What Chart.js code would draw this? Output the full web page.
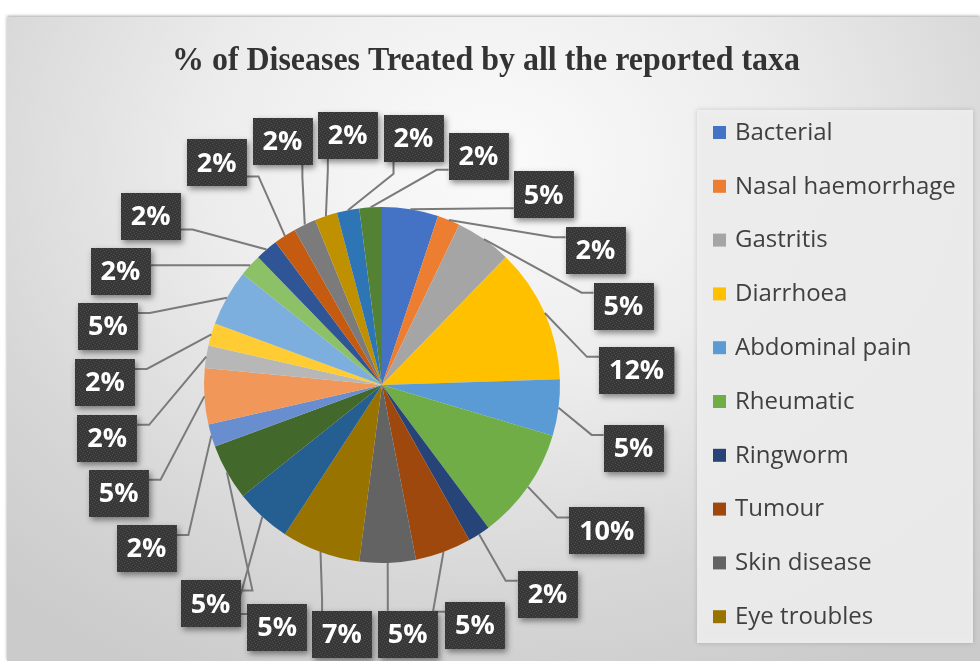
<!DOCTYPE html>
<html>
<head>
<meta charset="utf-8">
<title>% of Diseases Treated by all the reported taxa</title>
<script src="https://cdn.jsdelivr.net/npm/chart.js@4.4.1/dist/chart.umd.min.js"></script>
<style>
  html, body { margin: 0; padding: 0; background: #fff; }
  body { width: 980px; height: 661px; position: relative; overflow: hidden; }
  .frame {
    position: absolute; left: 7px; top: 17px; width: 973px; height: 644px;
    background: radial-gradient(ellipse 75% 90% at 50% 22%, #fbfbfb 0%, #ececec 40%, #d6d6d6 75%, #cbcbcb 100%);
    box-shadow: 0 -1px 3px rgba(0, 0, 0, 0.35);
  }
  canvas { position: absolute; left: 0; top: 0; }
</style>
</head>
<body>
<div class="frame"></div>
<canvas id="diseaseChart" width="980" height="661"></canvas>
<script>
// Diseases and their share (%) among the reported taxa
const diseases = [
  "Bacterial", "Nasal haemorrhage", "Gastritis", "Diarrhoea", "Abdominal pain",
  "Rheumatic", "Ringworm", "Tumour", "Skin disease", "Eye troubles",
  "Other 11", "Other 12", "Other 13", "Other 14", "Other 15", "Other 16",
  "Other 17", "Other 18", "Other 19", "Other 20", "Other 21", "Other 22",
  "Other 23", "Other 24"
]
const shares = [5, 2, 5, 12, 5, 10, 2, 5, 5, 7, 5, 5, 2, 5, 2, 2, 5, 2, 2, 2, 2, 2, 2, 2]

// Office palette: base accents, darker, lighter, then darker again
const sliceColors = [
  "#4472C4", "#ED7D31", "#A5A5A5", "#FFC000", "#5B9BD5", "#70AD47",
  "#264478", "#9E480E", "#636363", "#997300", "#255E91", "#43682B",
  "#698ED0", "#F1975A", "#B7B7B7", "#FFCD33", "#7CAFDD", "#8CC168",
  "#2F5597", "#C55A11", "#7B7B7B", "#BF9000", "#2E75B6", "#548235"
]

const chartTitle = "% of Diseases Treated by all the reported taxa"

// pie placement
const pie = { cx: 382, cy: 385, r: 178 }
// ring on which the value boxes sit: elliptic towards the legend (top right),
// squarer elsewhere so crowded boxes fit into the corners
const ring = { shift: -11, rx: 266, ry: 250, pRound: 2, pSquare: 2.5 }

// small dotted texture for the value boxes
function makeSpeckle(ctx) {
  const c = document.createElement("canvas")
  c.width = 6
  c.height = 6
  const g = c.getContext("2d")
  g.fillStyle = "#373737"
  g.fillRect(0, 0, 6, 6)
  g.fillStyle = "#4e4e4e"
  const dots = [[0, 0], [3, 1], [1, 3], [4, 4], [5, 2], [2, 5]]
  dots.forEach(([x, y]) => g.fillRect(x, y, 1, 1))
  return ctx.createPattern(c, "repeat")
}

// Title drawn in a narrow bold serif
const titlePlugin = {
  id: "titlePlugin",
  afterDraw(chart) {
    const ctx = chart.ctx
    ctx.save()
    ctx.font = "bold 34px 'Liberation Serif'"
    const w = ctx.measureText(chartTitle).width
    const sx = 628 / w
    ctx.translate(486, 61)
    ctx.scale(sx, 1)
    ctx.fillStyle = "#333333"
    ctx.textAlign = "center"
    ctx.textBaseline = "middle"
    ctx.fillText(chartTitle, 0, 0)
    ctx.restore()
  }
}

// Percentage boxes with leader lines; boxes start at their slice's angle
// on the ring, get pushed apart until none overlap, then the gaps are
// evened out a little
const valueLabels = {
  id: "valueLabels",
  afterDatasetsDraw(chart) {
    const ctx = chart.ctx
    const arcs = chart.getDatasetMeta(0).data
    const values = chart.data.datasets[0].data
    const n = arcs.length
    const cx = arcs[0].x
    const cy = arcs[0].y
    const r = arcs[0].outerRadius
    const TAU = Math.PI * 2

    ctx.save()
    ctx.font = "bold 27px 'Open Sans'"
    const boxes = arcs.map((arc, i) => {
      const a = (arc.startAngle + arc.endAngle) / 2 + Math.PI / 2
      const text = values[i] + "%"
      return {
        text, a, t: a,
        w: ctx.measureText(text).width + 20,
        h: 47,
        px: cx + r * Math.sin(a),
        py: cy - r * Math.cos(a)
      }
    })

    const place = (b) => {
      const s = Math.sin(b.t)
      const c = Math.cos(b.t)
      const p = s > 0 && c > 0 ? ring.pRound : ring.pSquare
      const k = Math.pow(Math.pow(Math.abs(s) / ring.rx, p) + Math.pow(Math.abs(c) / ring.ry, p), -1 / p)
      b.lx = cx + ring.shift + k * s
      b.ly = cy - k * c
    }
    const overlaps = (p, q) =>
      Math.abs(p.lx - q.lx) < (p.w + q.w) / 2 + 5 &&
      Math.abs(p.ly - q.ly) < (p.h + q.h) / 2 + 8

    const separate = () => {
      const step = Math.PI / 720
      for (let iter = 0; iter < 4000; iter++) {
        let moved = false
        for (let i = 0; i < n; i++) {
          const p = boxes[i]
          const q = boxes[(i + 1) % n]
          if (overlaps(p, q)) {
            p.t -= step
            q.t += step
            place(p)
            place(q)
            moved = true
          }
        }
        if (!moved) break
      }
    }

    boxes.forEach(place)
    separate()
    for (let pass = 0; pass < 4; pass++) {
      const ts = boxes.map((b) => b.t)
      boxes.forEach((b, i) => {
        const prev = i === 0 ? ts[n - 1] - TAU : ts[i - 1]
        const next = i === n - 1 ? ts[0] + TAU : ts[i + 1]
        b.t += 0.5 * ((prev + next) / 2 - b.t)
        place(b)
      })
    }
    separate()

    // leader lines
    ctx.strokeStyle = "#7a7a7a"
    ctx.lineWidth = 2
    boxes.forEach((b) => {
      const left = b.lx - b.w / 2
      const right = b.lx + b.w / 2
      const top = b.ly - b.h / 2
      const bottom = b.ly + b.h / 2
      let ax, ay, ex, ey
      if (Math.abs(Math.sin(b.t)) > 0.35) {
        ay = Math.min(Math.max(b.py, top + 10), bottom - 10)
        ax = b.px < b.lx ? left : right
        ex = b.px < b.lx ? ax - 12 : ax + 12
        ey = ay
      } else {
        ax = Math.min(Math.max(b.px, left + 10), right - 10)
        ay = b.py < b.ly ? top : bottom
        ex = ax
        ey = b.py < b.ly ? ay - 12 : ay + 12
      }
      ctx.beginPath()
      ctx.moveTo(b.px, b.py)
      ctx.lineTo(ex, ey)
      ctx.lineTo(ax, ay)
      ctx.stroke()
    })

    // boxes
    const speckle = makeSpeckle(ctx)
    boxes.forEach((b) => {
      const x = Math.round(b.lx - b.w / 2)
      const y = Math.round(b.ly - b.h / 2)
      ctx.save()
      ctx.shadowColor = "rgba(0, 0, 0, 0.45)"
      ctx.shadowBlur = 6
      ctx.shadowOffsetX = 2
      ctx.shadowOffsetY = 3
      ctx.fillStyle = "#373737"
      ctx.fillRect(x, y, b.w, b.h)
      ctx.restore()
      ctx.fillStyle = speckle
      ctx.fillRect(x, y, b.w, b.h)
      ctx.fillStyle = "#ffffff"
      ctx.textAlign = "center"
      ctx.textBaseline = "middle"
      ctx.fillText(b.text, b.lx, b.ly + 1)
    })
    ctx.restore()
  }
}

// Legend panel on the right; lists as many entries as fit
const sideLegend = {
  id: "sideLegend",
  afterDraw(chart) {
    const ctx = chart.ctx
    const box = { x: 697, y: 110, w: 276, h: 533 }
    const step = 53.8
    ctx.save()
    ctx.shadowColor = "rgba(0, 0, 0, 0.18)"
    ctx.shadowBlur = 5
    ctx.fillStyle = "rgba(240, 240, 240, 0.9)"
    ctx.fillRect(box.x, box.y, box.w, box.h)
    ctx.restore()

    ctx.save()
    ctx.font = "24px 'Open Sans'"
    ctx.textBaseline = "middle"
    const labels = chart.data.labels
    const colors = chart.data.datasets[0].backgroundColor
    let y = box.y + 23
    for (let i = 0; i < labels.length; i++) {
      if (y + 16 > box.y + box.h) break
      ctx.fillStyle = colors[i]
      ctx.fillRect(713, y - 7, 13, 13)
      ctx.fillStyle = "#404040"
      ctx.fillText(labels[i], 735, y)
      y += step
    }
    ctx.restore()
  }
}

const canvas = document.getElementById("diseaseChart")
new Chart(canvas.getContext("2d"), {
  type: "pie",
  data: {
    labels: diseases,
    datasets: [
      {
        data: shares,
        backgroundColor: sliceColors,
        borderWidth: 0,
        hoverOffset: 0
      }
    ]
  },
  options: {
    responsive: false,
    animation: false,
    events: [],
    layout: {
      padding: {
        left: pie.cx - pie.r,
        right: 980 - pie.cx - pie.r,
        top: pie.cy - pie.r,
        bottom: 661 - pie.cy - pie.r
      }
    },
    plugins: {
      legend: { display: false },
      title: { display: false },
      tooltip: { enabled: false }
    }
  },
  plugins: [titlePlugin, valueLabels, sideLegend]
})
</script>
</body>
</html>
